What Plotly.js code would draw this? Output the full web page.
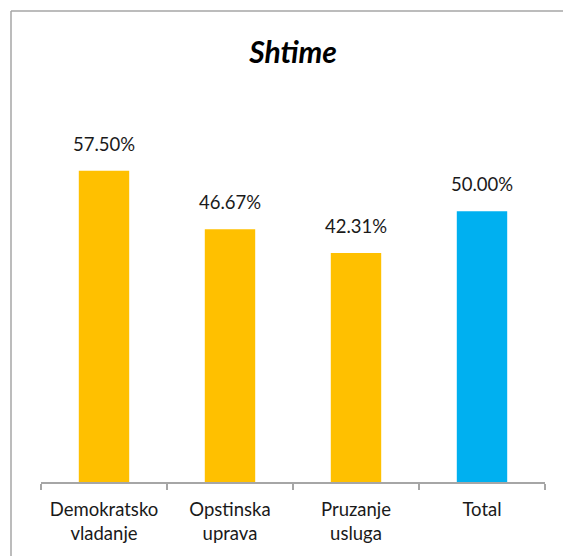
<!DOCTYPE html>
<html>
<head>
<meta charset="utf-8">
<script src="https://cdn.plot.ly/plotly-3.0.1.min.js"></script>
<style>
  html, body { margin: 0; padding: 0; background: #fff; overflow: hidden; }
  #chart { width: 563px; height: 556px; }
</style>
</head>
<body>
<div id="chart"></div>
<script>
// Shtime – share per area (percent)
const categories = ['Demokratsko<br>vladanje', 'Opstinska<br>uprava', 'Pruzanje<br>usluga', 'Total'];
const values = [57.50, 46.67, 42.31, 50.00];
const barColors = ['#FFC000', '#FFC000', '#FFC000', '#00B0F0'];

const FONT = 'Lato, "Open Sans", sans-serif';

const trace = {
  type: 'bar',
  x: categories,
  y: values,
  width: 0.4,
  marker: { color: barColors },
  hoverinfo: 'skip'
};

// value labels above each bar
const labels = categories.map((c, i) => ({
  x: c,
  y: values[i],
  xref: 'x',
  yref: 'y',
  text: values[i].toFixed(2) + '%',
  showarrow: false,
  yanchor: 'bottom',
  yshift: 14,
  font: { family: FONT, size: 18.5, color: '#1a1a1a' }
}));

// chart frame: left and top edges (the rest runs off the page)
const plotW = 563 - 41 - 18;
const plotH = 556 - 103 - 74;
const frameX = (11 - 41) / plotW;
const frameY = (482 - 11) / plotH;

const layout = {
  width: 563,
  height: 556,
  margin: { l: 41, r: 18, t: 103, b: 74 },
  paper_bgcolor: '#ffffff',
  plot_bgcolor: '#ffffff',
  showlegend: false,
  title: {
    text: '<b><i>Shtime</i></b>',
    x: 0.5,
    xref: 'paper',
    xanchor: 'center',
    y: 1 - 52 / 556,
    yref: 'container',
    yanchor: 'middle',
    font: { family: FONT, size: 30, color: '#000000' }
  },
  xaxis: {
    type: 'category',
    showline: true,
    linecolor: '#a6a6a6',
    linewidth: 1.5,
    ticks: 'outside',
    tickson: 'boundaries',
    ticklen: 6,
    tickcolor: '#a6a6a6',
    tickwidth: 1.5,
    ticklabelstandoff: 10,
    showgrid: false,
    zeroline: false,
    tickfont: { family: FONT, size: 18.5, color: '#1a1a1a' },
    fixedrange: true
  },
  yaxis: {
    range: [0, 70],
    visible: false,
    showgrid: false,
    zeroline: false,
    fixedrange: true
  },
  annotations: labels,
  shapes: [
    {
      type: 'line', xref: 'paper', yref: 'paper',
      x0: frameX, x1: 3, y0: frameY, y1: frameY,
      line: { color: '#a6a6a6', width: 1.5 }, layer: 'below'
    },
    {
      type: 'line', xref: 'paper', yref: 'paper',
      x0: frameX, x1: frameX, y0: -1, y1: frameY,
      line: { color: '#a6a6a6', width: 1.5 }, layer: 'below'
    }
  ]
};

Plotly.newPlot('chart', [trace], layout, { staticPlot: true, displayModeBar: false });
</script>
</body>
</html>
